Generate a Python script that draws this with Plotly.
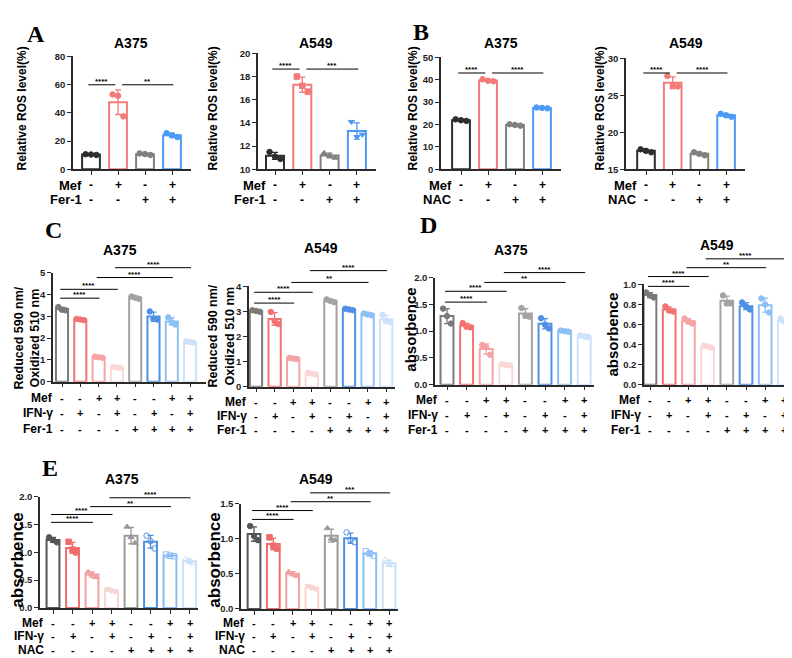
import numpy as np
import plotly.graph_objects as go

# replicate values (3 per bar)
ros_fer_a375 = [[10.7, 10.5, 10.2], [53.0, 52.0, 37.5], [11.3, 10.8, 10.2], [25.6, 24.0, 22.8]]
ros_fer_a549 = [[11.5, 11.1, 10.9], [18.0, 17.2, 16.7], [11.4, 11.2, 11.0], [14.1, 12.8, 13.0]]
ros_nac_a375 = [[22.3, 21.9, 21.6], [40.2, 39.5, 39.3], [20.1, 19.8, 19.5], [27.6, 27.4, 27.2]]
ros_nac_a549 = [[17.7, 17.5, 17.3], [27.6, 26.3, 26.2], [17.3, 17.1, 16.9], [22.5, 22.3, 22.1]]

gsh_a375 = [[3.42, 3.30, 3.27], [2.88, 2.85, 2.82], [1.15, 1.12, 1.10], [0.68, 0.65, 0.63],
            [3.90, 3.85, 3.80], [3.22, 2.88, 2.85], [2.95, 2.72, 2.62], [1.85, 1.82, 1.79]]
gsh_a549 = [[3.05, 3.02, 2.99], [2.98, 2.62, 2.50], [1.15, 1.12, 1.10], [0.55, 0.52, 0.49],
            [3.48, 3.42, 3.37], [3.11, 3.08, 3.05], [2.92, 2.88, 2.85], [2.86, 2.62, 2.57]]

abs_fer_a375 = [[1.42, 1.28, 1.14], [1.15, 1.08, 1.07], [0.74, 0.70, 0.56], [0.38, 0.37, 0.36],
                [1.43, 1.29, 1.27], [1.24, 1.12, 1.05], [1.01, 1.00, 0.99], [0.92, 0.90, 0.89]]
abs_fer_a549 = [[0.92, 0.89, 0.87], [0.78, 0.74, 0.73], [0.66, 0.63, 0.61], [0.39, 0.38, 0.37],
                [0.89, 0.81, 0.81], [0.82, 0.78, 0.75], [0.86, 0.80, 0.72], [0.66, 0.63, 0.61]]

abs_nac_a375 = [[1.27, 1.22, 1.18], [1.19, 1.05, 1.00], [0.65, 0.60, 0.55], [0.34, 0.31, 0.29],
                [1.46, 1.27, 1.17], [1.30, 1.20, 1.07], [0.96, 0.94, 0.93], [0.88, 0.84, 0.80]]
abs_nac_a549 = [[1.18, 1.04, 0.98], [1.02, 0.90, 0.86], [0.53, 0.50, 0.47], [0.33, 0.30, 0.28],
                [1.15, 1.00, 0.98], [1.09, 0.98, 0.95], [0.82, 0.79, 0.76], [0.70, 0.63, 0.62]]

mef4 = ["-", "+", "-", "+"]
drug4 = ["-", "-", "+", "+"]
mef8 = ["-", "-", "+", "+", "-", "-", "+", "+"]
ifn8 = ["-", "+", "-", "+", "-", "+", "-", "+"]
drug8 = ["-", "-", "-", "-", "+", "+", "+", "+"]

sig4_fer_a375 = [(0, 1, "****"), (1, 3, "**")]
sig4_fer_a549 = [(0, 1, "****"), (1, 3, "***")]
sig4_nac = [(0, 1, "****"), (1, 3, "****")]
sig_c_a375 = [(0, 2, "****"), (0, 3, "****"), (2, 6, "****"), (3, 7, "****")]
sig_c_a549 = [(0, 2, "****"), (0, 3, "****"), (2, 6, "**"), (3, 7, "****")]
sig_d = [(0, 2, "****"), (0, 3, "****"), (2, 6, "**"), (3, 7, "****")]
sig_e_a375 = [(0, 2, "****"), (0, 3, "****"), (2, 6, "**"), (3, 7, "****")]
sig_e_a549 = [(0, 2, "****"), (0, 3, "****"), (2, 6, "**"), (3, 7, "***")]

col4 = ["#2e2e2e", "#f47a7a", "#808080", "#4b9bf5"]
col8 = ["#7a7a7a", "#f27272", "#f5a3a3", "#fad8d8", "#a3a3a3", "#4f90e6", "#8ec0f5", "#cde1fb"]
col8e = ["#555555", "#f06c6c", "#f4a0a0", "#fad3d3", "#9a9a9a", "#4f8fe3", "#8cbcf3", "#cbe0fa"]

W, H = 792, 658
FONT = "Arial, Liberation Sans, sans-serif"
AX = "#2a2a2a"

circ4 = ["circle"] * 4
tri4 = ["circle", "square", "triangle-up", "triangle-down"]
circ8 = ["circle"] * 8
sym_e = ["circle", "square", "triangle-up", "triangle-down", "triangle-up",
         "circle-open", "square-open", "triangle-up-open"]

ROS = "Relative ROS level(%)"

# box = (left, right, top, bottom) in px ; yr = (min, max)
panels = [
    dict(data=ros_fer_a375, title="A375", tpos=(123, 30), ylab=ROS, ypos=(14, 96), yfs=12,
         box=(65, 183, 43, 158), first=83, sp=27, yr=(0, 80), dt=20, fmt="d", col=col4, sym=circ4,
         rows=[("Mef", mef4), ("Fer-1", drug4)], row_y=[174, 189], rfs=13,
         sig=sig4_fer_a375, sig_y=[72, 72], bw=0.66),
    dict(data=ros_fer_a549, title="A549", tpos=(308, 30), ylab=ROS, ypos=(205, 96), yfs=12,
         box=(250, 368, 40, 158), first=267, sp=27.3, yr=(10, 20), dt=2, fmt="d", col=col4, sym=tri4,
         rows=[("Mef", mef4), ("Fer-1", drug4)], row_y=[174, 189], rfs=13,
         sig=sig4_fer_a549, sig_y=[56, 56], bw=0.66),
    dict(data=ros_nac_a375, title="A375", tpos=(493, 30), ylab=ROS, ypos=(405, 96), yfs=12,
         box=(433, 553, 44, 158), first=453, sp=27, yr=(0, 50), dt=10, fmt="d", col=col4, sym=circ4,
         rows=[("Mef", mef4), ("NAC", drug4)], row_y=[174, 189], rfs=13,
         sig=sig4_nac, sig_y=[60, 60], bw=0.66),
    dict(data=ros_nac_a549, title="A549", tpos=(678, 30), ylab=ROS, ypos=(592, 96), yfs=12,
         box=(618, 737, 45, 158), first=638, sp=26.7, yr=(15, 30), dt=5, fmt="d", col=col4, sym=circ4,
         rows=[("Mef", mef4), ("NAC", drug4)], row_y=[174, 189], rfs=13,
         sig=sig4_nac, sig_y=[60, 60], bw=0.66),
    dict(data=gsh_a375, title="A375", tpos=(112, 240), ylab="Reduced 590 nm/<br>Oxidized 510 nm", ypos=(19, 330), yfs=12.5,
         box=(45, 198, 263, 374), first=54, sp=18.3, yr=(0, 5), dt=1, fmt="d", col=col8, sym=circ8,
         rows=[("Mef", mef8), ("IFN-γ", ifn8), ("Fer-1", drug8)], row_y=[391, 406, 422], rfs=12,
         sig=sig_c_a375, sig_y=[289, 280, 268, 258], bw=0.66),
    dict(data=gsh_a549, title="A549", tpos=(313, 238), ylab="Reduced 590 nm/<br>Oxidized 510 nm", ypos=(213, 328), yfs=12.5,
         box=(241, 387, 277, 379), first=248, sp=18.6, yr=(0, 4), dt=1, fmt="d", col=col8, sym=circ8,
         rows=[("Mef", mef8), ("IFN-γ", ifn8), ("Fer-1", drug8)], row_y=[395, 409, 423], rfs=12,
         sig=sig_c_a549, sig_y=[294, 283, 273, 261], bw=0.66),
    dict(data=abs_fer_a375, title="A375", tpos=(503, 240), ylab="absorbence", ypos=(403, 321), yfs=15,
         box=(427, 586, 268, 377), first=439, sp=19.6, yr=(0, 2), dt=0.5, fmt=".1f", col=col8, sym=circ8,
         rows=[("Mef", mef8), ("IFN-γ", ifn8), ("Fer-1", drug8)], row_y=[393, 408, 423], rfs=12,
         sig=sig_d, sig_y=[293, 282, 273, 263], bw=0.66),
    dict(data=abs_fer_a549, title="A549", tpos=(709, 235), ylab="absorbence", ypos=(605, 326), yfs=15,
         box=(636, 787, 275, 377), first=642, sp=19.2, yr=(0, 1), dt=0.2, fmt=".1f", col=col8, sym=circ8,
         rows=[("Mef", mef8), ("IFN-γ", ifn8), ("Fer-1", drug8)], row_y=[393, 408, 423], rfs=12,
         sig=sig_d, sig_y=[277, 267, 258, 249], bw=0.66),
    dict(data=abs_nac_a375, title="A375", tpos=(114, 473), ylab="absorbence", ypos=(10, 556), yfs=17,
         box=(32, 190, 491, 604), first=45, sp=19.5, yr=(0, 2), dt=0.5, fmt=".1f", col=col8e, sym=sym_e,
         rows=[("Mef", mef8), ("IFN-γ", ifn8), ("NAC", drug8)], row_y=[619, 633, 647], rfs=12,
         sig=sig_e_a375, sig_y=[517, 509, 501, 492], bw=0.66),
    dict(data=abs_nac_a549, title="A549", tpos=(308, 473), ylab="absorbence", ypos=(207, 556), yfs=17,
         box=(233, 390, 498, 605), first=246, sp=19.3, yr=(0, 1.5), dt=0.5, fmt=".1f", col=col8e, sym=sym_e,
         rows=[("Mef", mef8), ("IFN-γ", ifn8), ("NAC", drug8)], row_y=[619, 633, 647], rfs=12,
         sig=sig_e_a549, sig_y=[514, 505, 496, 487], bw=0.66),
]

letters = [("A", 28, 20), ("B", 413, 18), ("C", 45, 220), ("D", 420, 215), ("E", 42, 462)]
offs = [-0.2, 0.0, 0.2]


def px(x):
    return x / W


def py(y):
    return 1 - y / H


fig = go.Figure()
annos, shapes = [], []
layout = {}

for k, p in enumerate(panels, start=1):
    sfx = "" if k == 1 else str(k)
    xa, ya = "x" + sfx, "y" + sfx
    left, right, top, bottom = p["box"]
    n = len(p["data"])
    xr = [(left - p["first"]) / p["sp"], (right - p["first"]) / p["sp"]]
    ylo, yhi = p["yr"]
    ticks = list(np.round(np.arange(ylo, yhi + p["dt"] / 2, p["dt"]), 3))
    layout["xaxis" + sfx] = dict(domain=[px(left), px(right)], range=xr, anchor=ya,
                                 showline=True, linecolor=AX, linewidth=1.5, showgrid=False, zeroline=False,
                                 ticks="outside", ticklen=4, tickwidth=1.2, tickcolor=AX,
                                 tickvals=list(range(n)), showticklabels=False, fixedrange=True)
    layout["yaxis" + sfx] = dict(domain=[py(bottom), py(top)], range=[ylo, yhi], anchor=xa,
                                 showline=True, linecolor=AX, linewidth=1.5, showgrid=False, zeroline=False,
                                 ticks="outside", ticklen=4, tickwidth=1.2, tickcolor=AX,
                                 tickvals=ticks, tickformat=p["fmt"],
                                 tickfont=dict(family=FONT, size=9.5, color="#222", weight="bold"))

    for i, reps in enumerate(p["data"]):
        c = p["col"][i]
        m = float(np.mean(reps))
        sd = float(np.std(reps, ddof=1))
        fig.add_trace(go.Bar(x=[i], y=[m], width=p["bw"], xaxis=xa, yaxis=ya,
                             marker=dict(color="white", line=dict(color=c, width=2)),
                             error_y=dict(type="data", array=[sd], color=c, thickness=1.3, width=3),
                             showlegend=False, hoverinfo="skip"))
        fig.add_trace(go.Scatter(x=[i + o for o in offs], y=reps, mode="markers", xaxis=xa, yaxis=ya,
                                 marker=dict(symbol=p["sym"][i], size=5.5, color=c, line=dict(color=c, width=1)),
                                 cliponaxis=False, showlegend=False, hoverinfo="skip"))

    # titles
    annos.append(dict(text="<b>%s</b>" % p["title"], x=px(p["tpos"][0]), y=py(p["tpos"][1]),
                      xref="paper", yref="paper", showarrow=False, xanchor="center", yanchor="middle",
                      font=dict(family=FONT, size=14, color="black")))
    annos.append(dict(text="<b>%s</b>" % p["ylab"], x=px(p["ypos"][0]), y=py(p["ypos"][1]),
                      xref="paper", yref="paper", showarrow=False, textangle=-90,
                      xanchor="center", yanchor="middle",
                      font=dict(family=FONT, size=p["yfs"], color="black")))

    # +/- rows under the axis
    for (lab, signs), ry in zip(p["rows"], p["row_y"]):
        annos.append(dict(text="<b>%s</b>" % lab, x=0, xref=xa, xshift=-7, y=py(ry), yref="paper",
                          showarrow=False, xanchor="right", yanchor="middle",
                          font=dict(family=FONT, size=p["rfs"], color="black")))
        for i, s in enumerate(signs):
            annos.append(dict(text="<b>%s</b>" % s, x=i, xref=xa, y=py(ry), yref="paper",
                              showarrow=False, xanchor="center", yanchor="middle",
                              font=dict(family=FONT, size=p["rfs"] - 1, color="black")))

    # significance brackets
    starts = [s[0] for s in p["sig"]]
    ends = [s[1] for s in p["sig"]]
    for (a, b, lab), sy in zip(p["sig"], p["sig_y"]):
        x0 = a - 0.1
        x1 = b + 0.05
        if n == 4 and b in starts:
            x1 = b - 0.1
        if n == 4 and a in ends:
            x0 = a + 0.15
        shapes.append(dict(type="line", xref=xa, yref="paper", x0=x0, x1=x1, y0=py(sy), y1=py(sy),
                           line=dict(color="black", width=1)))
        annos.append(dict(text="<b>%s</b>" % lab, x=(x0 + x1) / 2, xref=xa, y=py(sy), yref="paper",
                          showarrow=False, xanchor="center", yanchor="bottom", yshift=-3,
                          font=dict(family=FONT, size=8, color="black")))

for t, x, y in letters:
    annos.append(dict(text="<b>%s</b>" % t, x=px(x), y=py(y), xref="paper", yref="paper",
                      showarrow=False, xanchor="center", yanchor="middle",
                      font=dict(family="Times New Roman, Liberation Serif, serif", size=24, color="black")))

fig.update_layout(layout)
fig.update_layout(width=W, height=H, margin=dict(l=0, r=0, t=0, b=0),
                  paper_bgcolor="white", plot_bgcolor="white", barmode="overlay",
                  annotations=annos, shapes=shapes, font=dict(family=FONT))
fig.write_html("out.html")
